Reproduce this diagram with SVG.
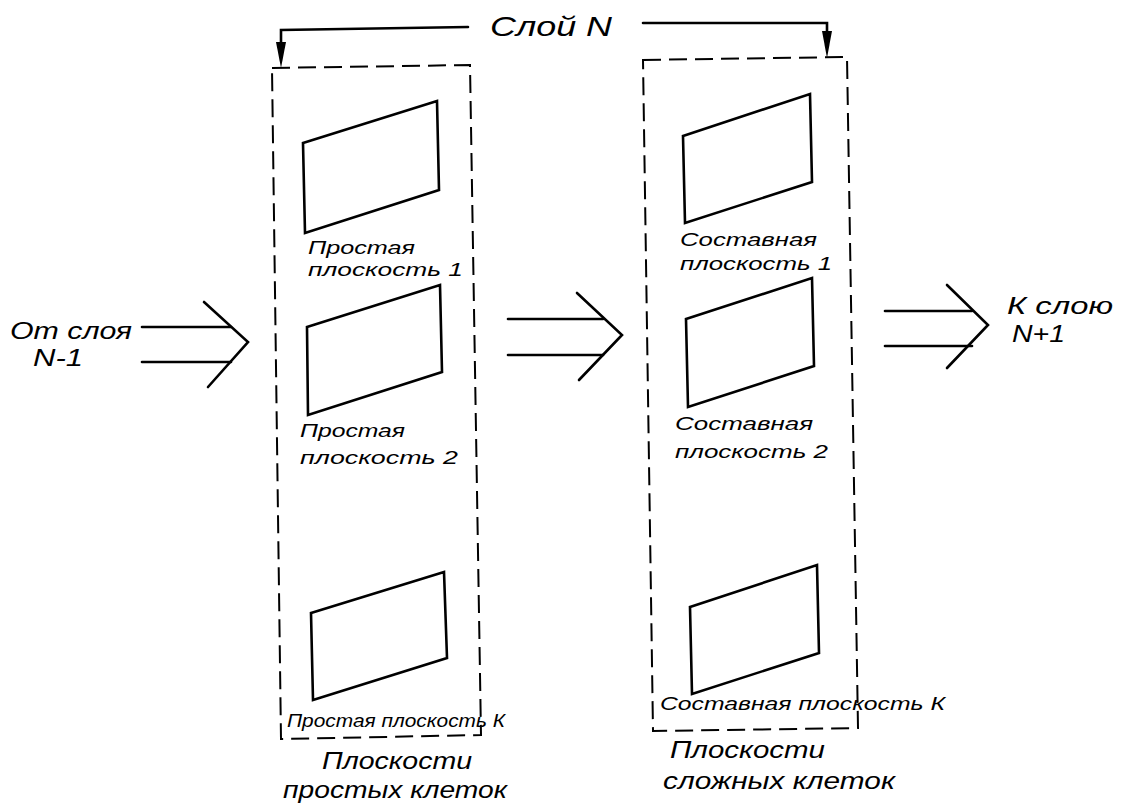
<svg xmlns="http://www.w3.org/2000/svg" width="1125" height="807" viewBox="0 0 1125 807">
<style>
.bg{fill:#fff}
.plane{fill:none;stroke:#000;stroke-width:2.6;stroke-linejoin:miter}
.box{fill:none;stroke:#000;stroke-width:2;stroke-dasharray:18 8}
.ln{fill:none;stroke:#000;stroke-width:2.6;stroke-linecap:round;stroke-linejoin:miter}
.head{fill:#000;stroke:none}
text{font-family:"Liberation Sans",Arial,sans-serif;font-style:italic;fill:#000}
.s{font-size:18px}
.b{font-size:23px}
.t{font-size:28px}
</style>
<rect class="bg" x="0" y="0" width="1125" height="807"/>

<g id="layer-title">
<text class="t" x="490" y="36" textLength="122" lengthAdjust="spacingAndGlyphs">Слой N</text>
</g>

<g id="simple-planes">
<polygon class="box" points="272,68 470,65 481,735 281,739"/>
<text class="b" x="322" y="769" textLength="150" lengthAdjust="spacingAndGlyphs">Плоскости</text>
<text class="b" x="283" y="798" textLength="224" lengthAdjust="spacingAndGlyphs">простых клеток</text>
</g>
<g id="simple-plane-1">
<polygon class="plane" points="303,143 437,101 439,190 305,233"/>
<text class="s" x="308" y="254" textLength="107" lengthAdjust="spacingAndGlyphs">Простая</text>
<text class="s" x="308" y="276" textLength="155" lengthAdjust="spacingAndGlyphs">плоскость 1</text>
</g>
<g id="simple-plane-2">
<polygon class="plane" points="307,327 440,285 442,372 308,415"/>
<text class="s" x="300" y="437" textLength="105" lengthAdjust="spacingAndGlyphs">Простая</text>
<text class="s" x="300" y="464" textLength="158" lengthAdjust="spacingAndGlyphs">плоскость 2</text>
</g>
<g id="simple-plane-k">
<polygon class="plane" points="311,613 444,572 447,658 313,700"/>
<text class="s" x="287" y="727" textLength="218" lengthAdjust="spacingAndGlyphs">Простая плоскость К</text>
</g>

<g id="complex-planes">
<polygon class="box" points="643,60 847,57 858,728 653,731"/>
<text class="b" x="670" y="758" textLength="155" lengthAdjust="spacingAndGlyphs">Плоскости</text>
<text class="b" x="663" y="789" textLength="232" lengthAdjust="spacingAndGlyphs">сложных клеток</text>
</g>
<g id="complex-plane-1">
<polygon class="plane" points="683,136 810,94 812,182 685,223"/>
<text class="s" x="680" y="246" textLength="137" lengthAdjust="spacingAndGlyphs">Составная</text>
<text class="s" x="680" y="270" textLength="152" lengthAdjust="spacingAndGlyphs">плоскость 1</text>
</g>
<g id="complex-plane-2">
<polygon class="plane" points="686,319 812,278 814,366 688,407"/>
<text class="s" x="675" y="430" textLength="138" lengthAdjust="spacingAndGlyphs">Составная</text>
<text class="s" x="675" y="458" textLength="153" lengthAdjust="spacingAndGlyphs">плоскость 2</text>
</g>
<g id="complex-plane-k">
<polygon class="plane" points="690,607 817,565 819,653 692,694"/>
<text class="s" x="660" y="710" textLength="285" lengthAdjust="spacingAndGlyphs">Составная плоскость К</text>
</g>

<g id="input-label">
<text class="b" x="10" y="339" textLength="122" lengthAdjust="spacingAndGlyphs">От слоя</text>
<text class="b" x="33" y="366" textLength="50" lengthAdjust="spacingAndGlyphs">N-1</text>
</g>
<g id="output-label">
<text class="b" x="1007" y="314" textLength="106" lengthAdjust="spacingAndGlyphs">К слою</text>
<text class="b" x="1012" y="342" textLength="53" lengthAdjust="spacingAndGlyphs">N+1</text>
</g>

<g id="connectors">
<polyline class="ln" points="468,27 281,30 281,44"/>
<polygon class="head" points="276,42 286,42 281,68"/>
<polyline class="ln" points="643,23 827,23 827,33"/>
<polygon class="head" points="822,31 832,31 827,58"/>

<line class="ln" x1="142" y1="327" x2="231" y2="327"/>
<line class="ln" x1="142" y1="362" x2="231" y2="362"/>
<polyline class="ln" points="204,302 248,342 208,387"/>

<line class="ln" x1="508" y1="319" x2="603" y2="319"/>
<line class="ln" x1="508" y1="355" x2="603" y2="355"/>
<polyline class="ln" points="577,293 622,335 579,380"/>

<line class="ln" x1="885" y1="311" x2="972" y2="311"/>
<line class="ln" x1="885" y1="346" x2="972" y2="346"/>
<polyline class="ln" points="947,285 988,325 947,368"/>
</g>
</svg>
